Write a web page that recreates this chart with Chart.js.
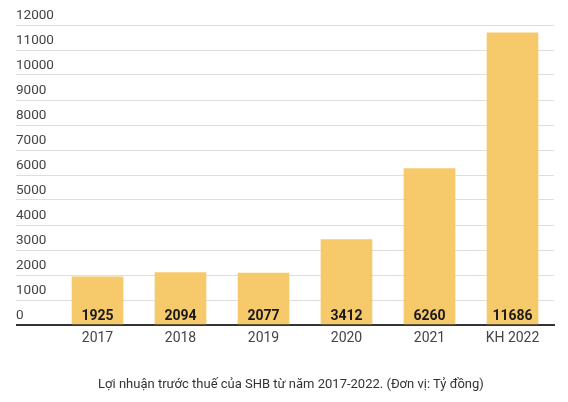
<!DOCTYPE html>
<html>
<head>
<meta charset="utf-8">
<script src="https://cdn.jsdelivr.net/npm/chart.js@4"></script>
<style>
  body { margin: 0; background: #fff; }
  #wrap { position: relative; width: 568px; height: 402px; }
  #caption {
    position: absolute; left: 0; top: 376px; width: 582px;
    text-align: center; font-family: Roboto, sans-serif; font-size: 13px; color: #333;
  }
</style>
</head>
<body>
<div id="wrap">
  <canvas id="chart" width="568" height="402"></canvas>
  <div id="caption">Lợi nhuận trước thuế của SHB từ năm 2017-2022. (Đơn vị: Tỷ đồng)</div>
</div>
<script>
// dữ liệu
const years = ['2017', '2018', '2019', '2020', '2021', 'KH 2022'];
const profit = [1925, 2094, 2077, 3412, 6260, 11686];
const yTicks = [0, 1000, 2000, 3000, 4000, 5000, 6000, 7000, 8000, 9000, 10000, 11000, 12000];

// ghi số ở chân cột
const barValueLabels = {
    id: 'barValueLabels',
    afterDatasetsDraw(chart) {
        const ctx = chart.ctx;
        const meta = chart.getDatasetMeta(0);
        ctx.save();
        ctx.font = 'bold 14px Roboto, sans-serif';
        ctx.fillStyle = '#1a1a1a';
        ctx.textAlign = 'center';
        ctx.textBaseline = 'middle';
        meta.data.forEach((bar, i) => {
            ctx.fillText(String(profit[i]), bar.x, chart.scales.y.bottom - 9);
        });
        ctx.restore();
    }
};

new Chart(document.getElementById('chart'), {
    type: 'bar',
    data: {
        labels: years,
        datasets: [{
            data: profit,
            backgroundColor: '#F6C96B',
            borderWidth: 0,
            barThickness: 51
        }]
    },
    options: {
        responsive: false,
        animation: false,
        layout: {
            padding: { left: 16, right: 14, top: 25, bottom: 55 }
        },
        plugins: {
            legend: { display: false },
            tooltip: { enabled: false }
        },
        scales: {
            x: {
                afterFit: (scale) => {
                    scale.height = 22;
                },
                grid: { display: false, drawTicks: false },
                border: { display: true, color: '#333', width: 2 },
                ticks: {
                    padding: 5,
                    color: '#444',
                    font: { family: 'Roboto, sans-serif', size: 14 }
                }
            },
            y: {
                min: 0,
                max: 12000,
                afterBuildTicks: (scale) => {
                    scale.ticks = yTicks.map(v => ({ value: v }));
                },
                afterFit: (scale) => {
                    scale.width = 40;
                },
                border: { display: false },
                grid: {
                    drawTicks: true,
                    tickLength: 40,
                    color: (c) => (c.tick && c.tick.value === 0 ? '#333' : '#dedede'),
                    lineWidth: (c) => (c.tick && c.tick.value === 0 ? 2 : 1)
                },
                ticks: {
                    mirror: true,
                    padding: -40,
                    labelOffset: -9,
                    color: '#444',
                    font: { family: 'Roboto, sans-serif', size: 13.5 },
                    callback: (v) => String(v)
                }
            }
        }
    },
    plugins: [barValueLabels]
});
</script>
</body>
</html>
